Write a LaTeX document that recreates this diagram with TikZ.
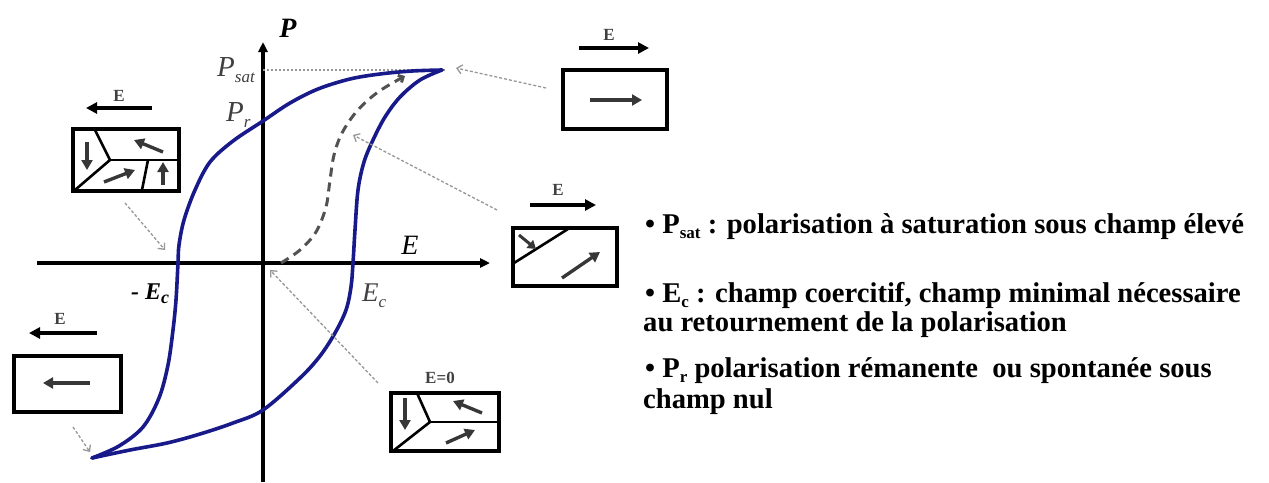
\documentclass[tikz,border=0pt]{standalone}
\usepackage{fontspec}
\setmainfont{Liberation Serif}
\usetikzlibrary{arrows.meta}
\definecolor{loopblue}{RGB}{24,26,138}
\definecolor{guidegray}{RGB}{150,150,150}
\definecolor{domaingray}{RGB}{55,55,55}
\definecolor{labelgray}{RGB}{64,64,64}
\newcommand\setfs[1]{\fontsize{#1}{#1}\selectfont}
% lowered subscript: optional drop, size, text
\newcommand\lowsub[3][5pt]{\raisebox{-#1}{\fontsize{#2}{#2}\selectfont #3}}
\begin{document}
\begin{tikzpicture}[x=1pt,y=-1pt,
  axisline/.style={line width=3.6pt,-{Triangle[length=10pt,width=9pt]}},
  branch/.style={draw=loopblue,line width=3.6pt,line join=round,line cap=round},
  firstpol/.style={draw=black!68,line width=3pt,dash pattern=on 9pt off 6pt,
    -{Straight Barb[length=4pt,width=8pt]}},
  satline/.style={draw=guidegray,line width=1.4pt,dash pattern=on 2pt off 2pt},
  pointer/.style={draw=guidegray,line width=1.3pt,dash pattern=on 3pt off 2pt,
    -{Straight Barb[length=5pt,width=9pt]}},
  domainbox/.style={draw,line width=4pt,inner sep=0pt},
  fieldarrow/.style={line width=4.5pt,-{Triangle[length=11pt,width=11pt]}},
  wall/.style={line width=2.6pt},
  dipole/.style={draw=domaingray,line width=3.4pt,-{Triangle[length=10pt,width=11pt]}},
  fieldlbl/.style={text=labelgray,font=\setfs{17}\bfseries,inner sep=0pt},
  bodytext/.style={anchor=base west,inner sep=0pt,font=\setfs{28.6}\bfseries},
]
\useasboundingbox (0,0) rectangle (1269,482);

% ---------- axes ----------
\coordinate (Ptail) at (263,482);
\coordinate (Ptip) at (263,42);
\coordinate (Etail) at (37,263);
\coordinate (Etip) at (490,263);
\draw[axisline] (Ptail) -- (Ptip);
\draw[axisline] (Etail) -- (Etip);
\node[inner sep=0pt] (lblP) at (288,28) {\setfs{28}\bfseries\itshape P};
\node[inner sep=0pt] (lblE) at (410,245) {\setfs{28}\itshape E};

% ---------- saturation level ----------
\coordinate (Paxsat) at (263,70);
\coordinate (Ttop) at (442,70);
\coordinate (Tbot) at (92,458);
\coordinate (Satend) at (446,70);
\draw[satline] (Paxsat) -- (Satend);

% ---------- hysteresis loop ----------
\draw[branch] plot[smooth,tension=0.55] coordinates {
  (442,70) (412,71) (380,74) (350,79) (318,89) (290,103) (263,121)
  (233,141) (210,162) (195,190) (184,220) (179,245) (178,263)
  (176,300) (173,330) (168,365) (159,398) (143,427) (119,446) (92,458)};
\draw[branch] plot[smooth,tension=0.55] coordinates {
  (92,458) (130,450) (167,443) (200,434) (233,423) (263,410)
  (300,378) (320,356) (335,333) (346,310) (351,287) (353,263)
  (355,230) (358,190) (364,162) (373,140) (385,117) (400,97) (420,80) (442,70)};

% first polarisation curve
\draw[firstpol] plot[smooth,tension=0.55] coordinates {
  (281,263) (300,250) (316,232) (326,207) (330,180) (334,155)
  (342,133) (357,111) (378,92) (405,76)};

% ---------- axis labels ----------
\node[anchor=base west,inner sep=0pt,text=labelgray] (lblPsat) at (217,76)
  {\setfs{29}\itshape P\lowsub[6pt]{17}{sat}};
\node[anchor=base west,inner sep=0pt,text=labelgray] (lblPr) at (226,121)
  {\setfs{29}\itshape P\lowsub[6pt]{17}{r}};
\node[anchor=base west,inner sep=0pt,text=labelgray] (lblEc) at (362,301)
  {\setfs{27}\itshape E\lowsub[6pt]{17}{c}};
\node[anchor=base west,inner sep=0pt] (lblmEc) at (131,299)
  {\setfs{24}\bfseries\itshape - E\lowsub[4pt]{18}{c}};

% ---------- domain sketches ----------
% saturated, field to the right
\node[domainbox,minimum width=104pt,minimum height=59pt] (bxA) at (615,99.5) {};
\coordinate (fA1) at (579,48); \coordinate (fA2) at (649,48);
\draw[fieldarrow] (fA1) -- (fA2);
\node[fieldlbl] (lA) at (609,35) {E};
\coordinate (dA1) at (590,100); \coordinate (dA2) at (642,100);
\draw[dipole] (dA1) -- (dA2);

% growing domain, field to the right
\node[domainbox,minimum width=104pt,minimum height=58pt] (bxB) at (565,257) {};
\coordinate (fB1) at (530,205); \coordinate (fB2) at (596,205);
\draw[fieldarrow] (fB1) -- (fB2);
\node[fieldlbl] (lB) at (558,190) {E};
\coordinate (wB1) at (514,263); \coordinate (wB2) at (568,229);
\draw[wall] (wB1) -- (wB2);
\coordinate (dB1) at (519,235); \coordinate (dB2) at (536,249);
\draw[dipole,line width=3pt,-{Triangle[length=8pt,width=10pt]}] (dB1) -- (dB2);
\coordinate (dB3) at (562,278); \coordinate (dB4) at (600,252);
\draw[dipole] (dB3) -- (dB4);

% multidomain, field to the left
\node[domainbox,minimum width=106pt,minimum height=62pt] (bxC) at (126,160) {};
\coordinate (fC1) at (152,108); \coordinate (fC2) at (86,108);
\draw[fieldarrow] (fC1) -- (fC2);
\node[fieldlbl] (lC) at (119,96) {E};
\coordinate (jC) at (110,160);
\coordinate (wC1) at (95,130); \coordinate (wC2) at (75,190);
\coordinate (wC3) at (179,160);
\coordinate (wC4) at (148,160); \coordinate (wC5) at (142,190);
\draw[wall] (wC1) -- (jC) -- (wC2);
\draw[wall] (jC) -- (wC3);
\draw[wall] (wC4) -- (wC5);
\coordinate (dC1) at (87,142); \coordinate (dC2) at (87,170);
\draw[dipole] (dC1) -- (dC2);
\coordinate (dC3) at (163,152); \coordinate (dC4) at (134,140);
\draw[dipole] (dC3) -- (dC4);
\coordinate (dC5) at (104,182); \coordinate (dC6) at (135,170);
\draw[dipole] (dC5) -- (dC6);
\coordinate (dC7) at (163,185); \coordinate (dC8) at (163,162);
\draw[dipole] (dC7) -- (dC8);

% saturated, field to the left
\node[domainbox,minimum width=107pt,minimum height=56pt] (bxD) at (67.5,384) {};
\coordinate (fD1) at (97,333); \coordinate (fD2) at (29,333);
\draw[fieldarrow] (fD1) -- (fD2);
\node[fieldlbl] (lD) at (60,319) {E};
\coordinate (dD1) at (90,383); \coordinate (dD2) at (43,383);
\draw[dipole] (dD1) -- (dD2);

% multidomain, no field
\node[domainbox,minimum width=108pt,minimum height=58pt] (bxE) at (445,422) {};
\node[fieldlbl] (lE) at (440,378) {E=0};
\coordinate (jE) at (430,422);
\coordinate (wE1) at (417,393); \coordinate (wE2) at (393,451);
\coordinate (wE3) at (499,422);
\draw[wall] (wE1) -- (jE) -- (wE2);
\draw[wall] (jE) -- (wE3);
\coordinate (dE1) at (405,398); \coordinate (dE2) at (405,430);
\draw[dipole] (dE1) -- (dE2);
\coordinate (dE3) at (482,413); \coordinate (dE4) at (453,401);
\draw[dipole] (dE3) -- (dE4);
\coordinate (dE5) at (446,443); \coordinate (dE6) at (475,430);
\draw[dipole] (dE5) -- (dE6);

% ---------- pointers from sketches to the loop ----------
\coordinate (pA) at (546,88);  \coordinate (cA) at (456,68);
\coordinate (pB) at (497,210); \coordinate (cB) at (353,135);
\coordinate (pC) at (125,203); \coordinate (cC) at (165,250);
\coordinate (pE) at (378,383); \coordinate (cE) at (270,270);
\coordinate (pD) at (73,427);  \coordinate (cD) at (90,452);
\draw[pointer] (pA) -- (cA);
\draw[pointer] (pB) -- (cB);
\draw[pointer] (pC) -- (cC);
\draw[pointer] (pE) -- (cE);
\draw[pointer] (pD) -- (cD);

% ---------- definitions ----------
\node[bodytext] (t1) at (645,233)
  {\textbullet\ P\lowsub{17}{sat} : polarisation à saturation sous champ élevé};
\node[bodytext] (t2) at (645,302)
  {\textbullet\ E\lowsub{17}{c} : champ coercitif, champ minimal nécessaire};
\node[bodytext] (t3) at (643,331)
  {au retournement de la polarisation};
\node[bodytext] (t4) at (645,377)
  {\textbullet\ P\lowsub{17}{r} polarisation rémanente\ \ ou spontanée sous};
\node[bodytext] (t5) at (643,408)
  {champ nul};
\end{tikzpicture}
\end{document}
